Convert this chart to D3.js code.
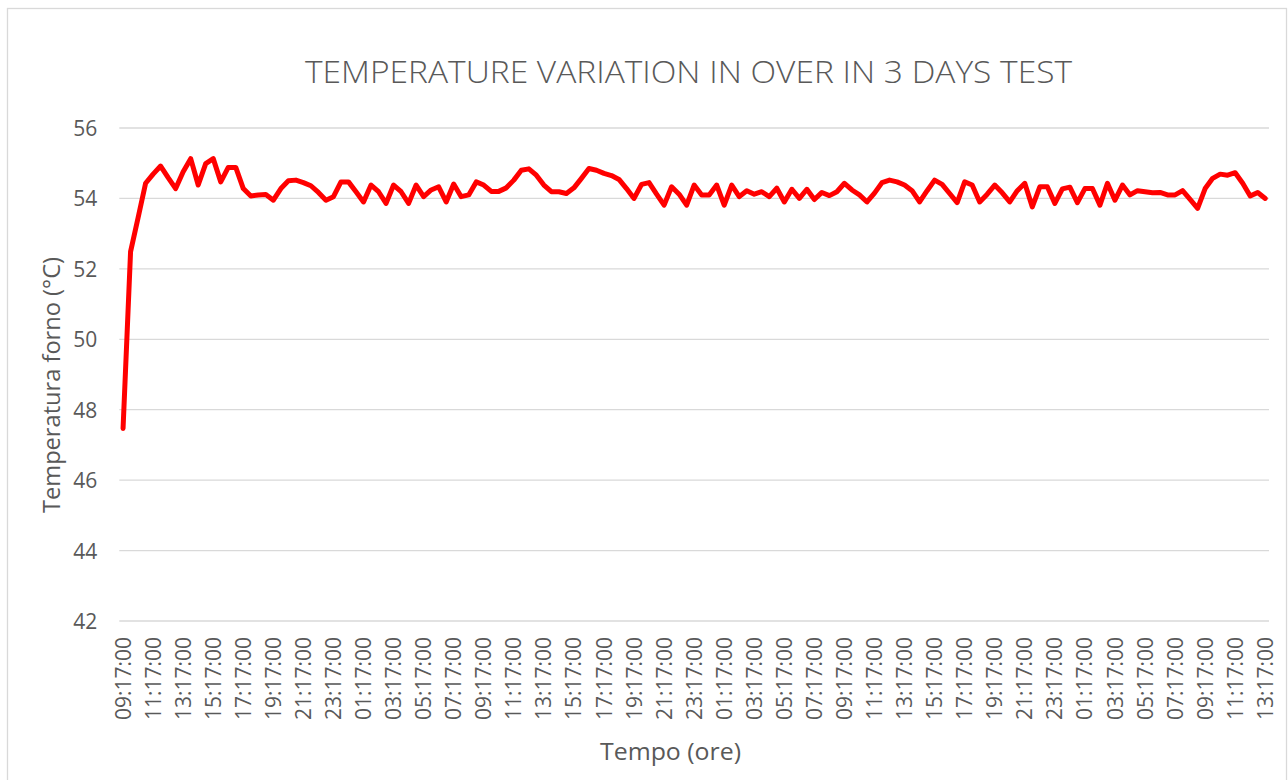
<!DOCTYPE html>
<html>
<head>
<meta charset="utf-8">
<script src="https://cdn.jsdelivr.net/npm/d3@7"></script>
<style>
  body { margin: 0; background: #fff; }
  svg text { font-family: "Open Sans", "DejaVu Sans", sans-serif; fill: #595959; }
</style>
</head>
<body>
<svg id="chart"></svg>
<script>
var width = 1288,
    height = 780;

// oven temperature, one reading every 30 minutes starting 09:17:00
var tempForno = [
  47.47, 52.49, 53.45, 54.43, 54.69, 54.92, 54.59, 54.28, 54.76, 55.13,
  54.38, 54.99, 55.13, 54.47, 54.88, 54.88, 54.28, 54.07, 54.10, 54.11,
  53.95, 54.28, 54.50, 54.52, 54.45, 54.36, 54.17, 53.95, 54.05, 54.47,
  54.47, 54.19, 53.90, 54.38, 54.19, 53.86, 54.38, 54.19, 53.86, 54.38,
  54.05, 54.24, 54.33, 53.90, 54.41, 54.05, 54.10, 54.47, 54.38, 54.20,
  54.20, 54.30, 54.52, 54.80, 54.84, 54.66, 54.38, 54.19, 54.19, 54.14,
  54.30, 54.57, 54.85, 54.80, 54.71, 54.65, 54.54, 54.28, 54.00, 54.40,
  54.45, 54.12, 53.81, 54.33, 54.12, 53.81, 54.38, 54.10, 54.10, 54.38,
  53.81, 54.38, 54.05, 54.22, 54.12, 54.19, 54.05, 54.29, 53.90, 54.26,
  54.00, 54.26, 53.97, 54.17, 54.08, 54.19, 54.43, 54.24, 54.10, 53.90,
  54.15, 54.45, 54.52, 54.47, 54.38, 54.22, 53.90, 54.22, 54.52, 54.40,
  54.14, 53.88, 54.47, 54.38, 53.90, 54.12, 54.38, 54.16, 53.90, 54.22,
  54.43, 53.76, 54.33, 54.33, 53.86, 54.27, 54.32, 53.88, 54.28, 54.28,
  53.81, 54.43, 53.95, 54.38, 54.10, 54.22, 54.19, 54.16, 54.17, 54.10,
  54.10, 54.22, 53.97, 53.72, 54.28, 54.57, 54.69, 54.66, 54.73, 54.43,
  54.07, 54.17, 54.00
];
var startTime = new Date(2000, 0, 1, 9, 17, 0);
var stepMinutes = 30;
var labelEvery = 4;
var yTicks = [42, 44, 46, 48, 50, 52, 54, 56];

var titleText = "TEMPERATURE VARIATION IN OVER IN 3 DAYS TEST";
var yTitle = "Temperatura forno (°C)";
var xTitle = "Tempo (ore)";

var categories = tempForno.map(function(d, i) {
    return d3.timeMinute.offset(startTime, i * stepMinutes);
});

var plot = { left: 119.3, right: 1269, top: 128, bottom: 621 };

var svg = d3.select("#chart").attr("width", width).attr("height", height);

svg.append("rect")
    .attr("x", 7.5).attr("y", 8.5)
    .attr("width", 1279).attr("height", 800)
    .attr("fill", "#fff")
    .attr("stroke", "#d9d9d9")
    .attr("stroke-width", 1.3);

var x = d3.scaleBand()
    .domain(categories)
    .range([plot.left, plot.right])
    .paddingInner(0).paddingOuter(0);

var y = d3.scaleLinear()
    .domain([42, 56])
    .range([plot.bottom, plot.top]);

// gridlines
svg.append("g").selectAll("line").data(yTicks)
    .enter()
    .append("line")
        .attr("x1", plot.left).attr("x2", plot.right)
        .attr("y1", function(d) { return y(d); })
        .attr("y2", function(d) { return y(d); })
        .attr("stroke", "#d9d9d9")
        .attr("stroke-width", 1.3);

// y axis
var yAxis = svg.append("g")
    .attr("transform", "translate(" + plot.left + ",0)")
    .call(d3.axisLeft(y).tickValues(yTicks).tickSize(0).tickPadding(22).tickFormat(d3.format("d")));
yAxis.select(".domain").remove();
yAxis.selectAll("text")
    .style("font-size", "21px")
    .attr("dy", "0.36em");

// x axis
var xAxis = svg.append("g")
    .attr("transform", "translate(0," + plot.bottom + ")")
    .call(d3.axisBottom(x)
        .tickValues(categories.filter(function(d, i) { return i % labelEvery === 0; }))
        .tickSize(0)
        .tickFormat(d3.timeFormat("%H:%M:%S")));
xAxis.select(".domain").remove();
xAxis.selectAll("text")
    .style("font-size", "21px")
    .attr("transform", "rotate(-90)")
    .attr("text-anchor", "end")
    .attr("x", -16)
    .attr("y", 0)
    .attr("dy", "0.36em");

// line
var line = d3.line()
    .x(function(d, i) { return x(categories[i]) + x.bandwidth() / 2; })
    .y(function(d) { return y(d); });

svg.append("path")
    .datum(tempForno)
    .attr("d", line)
    .attr("fill", "none")
    .attr("stroke", "#ff0000")
    .attr("stroke-width", 5)
    .attr("stroke-linejoin", "round")
    .attr("stroke-linecap", "round");

// titles
svg.append("text")
    .attr("x", 688.5).attr("y", 83)
    .attr("text-anchor", "middle")
    .attr("textLength", 767)
    .attr("lengthAdjust", "spacingAndGlyphs")
    .style("font-size", "31px")
    .style("font-weight", 300)
    .text(titleText);

svg.append("text")
    .attr("transform", "translate(60,385) rotate(-90)")
    .attr("text-anchor", "middle")
    .attr("textLength", 256)
    .attr("lengthAdjust", "spacingAndGlyphs")
    .style("font-size", "23px")
    .text(yTitle);

svg.append("text")
    .attr("x", 670.5).attr("y", 760)
    .attr("text-anchor", "middle")
    .attr("textLength", 141)
    .attr("lengthAdjust", "spacingAndGlyphs")
    .style("font-size", "23px")
    .text(xTitle);
</script>
</body>
</html>
